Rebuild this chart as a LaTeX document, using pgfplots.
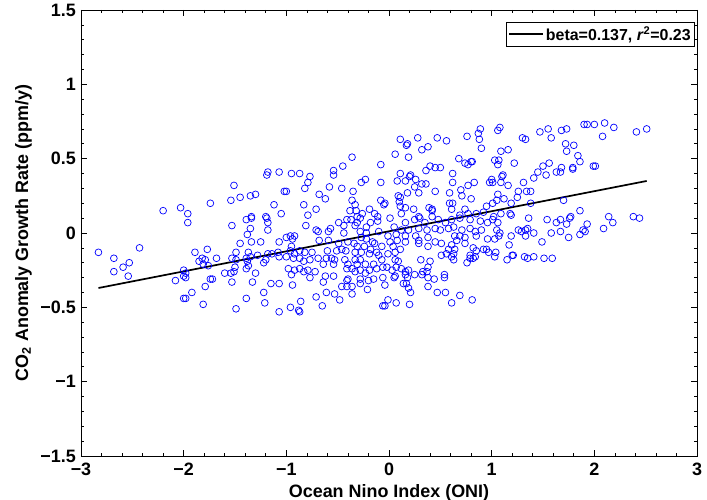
\documentclass[border=0pt]{standalone}
\usepackage{fontspec}
\setmainfont{Liberation Sans}
\usepackage{pgfplots}
\pgfplotsset{compat=1.18}
\begin{document}
\begin{tikzpicture}
\useasboundingbox (-81bp,-44bp) rectangle (626bp,456bp);
\begin{axis}[
 at={(0,0)}, anchor=south west,
 scale only axis, width=616bp, height=446bp,
 xmin=-3, xmax=3, ymin=-1.5, ymax=1.5,
 xtick={-3,-2,-1,0,1,2,3},
 xticklabels={−3,−2,−1,0,1,2,3},
 ytick={-1.5,-1,-0.5,0,0.5,1,1.5},
 yticklabels={−1.5,−1,−0.5,0,0.5,1,1.5},
 minor x tick num=4, minor y tick num=4,
 tick align=inside, major tick length=6bp, minor tick length=3.3bp,
 tick style={black, line width=0.6bp},
 axis line style={black, line width=0.6bp},
 ticklabel style={font=\bfseries\fontsize{18}{20}\selectfont, inner sep=0bp},
 xticklabel style={anchor=north, yshift=-7bp},
 yticklabel style={anchor=east, xshift=-5bp},
 xlabel={Ocean Nino Index (ONI)},
 ylabel={CO\textsubscript{2} Anomaly Growth Rate (ppm/y)},
 label style={font=\bfseries\fontsize{18}{20}\selectfont},
 xlabel style={at={(axis description cs:0.5,-0.092)}, anchor=base},
 ylabel style={at={(axis description cs:-0.086,0.5)}, anchor=base},
 legend style={at={(rel axis cs:0.9968,0.973)}, anchor=north east, draw=black, line width=0.6bp, font=\bfseries\fontsize{16}{18}\selectfont, inner sep=2bp},
 legend image code/.code={\draw[black, line width=1.7bp] (0bp,0bp) -- (34bp,0bp);},
]
\addplot[only marks, mark=o, mark size=3.4bp, blue, mark options={line width=0.7bp}, forget plot] coordinates {
(-2.20,0.15) (-2.03,0.17)
(-2.83,-0.13) (-2.68,-0.17) (-2.43,-0.10) (-2.53,-0.20) (-2.59,-0.23) (-2.68,-0.26) (-2.54,-0.29) (-2.08,-0.32) (-2.00,-0.29) (-2.00,-0.25) (-2.00,-0.44)
(-1.18,0.41) (-1.19,0.39) (-1.07,0.41) (-1.51,0.32) (-1.02,0.28) (-1.74,0.20) (-1.54,0.22) (-1.45,0.24) (-1.35,0.25) (-1.30,0.26) (-1.12,0.19) (-1.96,0.13) (-1.34,0.11) (-1.20,0.11) (-1.05,0.13)
(-1.96,0.07) (-1.53,0.05) (-1.39,0.09) (-1.34,0.10) (-1.19,0.10) (-1.18,0.07) (-1.35,0.03) (-1.38,-0.01) (-1.18,0.02) (-1.45,-0.07) (-1.34,-0.06) (-1.25,-0.06) (-1.07,-0.06) (-1.89,-0.13) (-1.77,-0.11) (-1.82,-0.17) (-1.79,-0.18) (-1.85,-0.19) (-1.68,-0.17) (-1.81,-0.21) (-1.76,-0.22) (-1.49,-0.13) (-1.37,-0.13) (-1.53,-0.17) (-1.49,-0.18) (-1.39,-0.17) (-1.38,-0.19) (-1.35,-0.16) (-1.28,-0.15) (-1.18,-0.14) (-1.14,-0.14) (-1.08,-0.13) (-1.07,-0.16) (-1.22,-0.20) (-1.20,-0.18) (-1.98,-0.30) (-1.98,-0.27) (-1.74,-0.31) (-1.72,-0.31) (-1.60,-0.27) (-1.54,-0.27) (-1.50,-0.23) (-1.51,-0.26) (-1.39,-0.24) (-1.37,-0.22) (-1.30,-0.27) (-1.53,-0.33) (-1.33,-0.33) (-1.79,-0.36) (-1.15,-0.34) (-1.07,-0.34) (-1.92,-0.40) (-1.98,-0.44) (-1.39,-0.44) (-1.22,-0.40) (-1.21,-0.47) (-1.81,-0.48) (-1.49,-0.51) (-1.07,-0.53)
(-0.36,0.51) (-0.45,0.45) (-0.08,0.46) (-0.95,0.40) (-0.87,0.40) (-0.54,0.42) (-0.54,0.39) (-0.77,0.38) (-0.79,0.34) (-1.00,0.28) (-0.82,0.30) (-0.68,0.26) (-0.58,0.31) (-0.46,0.30) (-0.27,0.34) (-0.23,0.36) (-0.08,0.34) (-0.35,0.28) (-0.62,0.23) (-0.36,0.22) (-0.33,0.19) (-0.08,0.22) (-0.05,0.19) (-0.83,0.19) (-0.71,0.16) (-0.38,0.15) (-0.32,0.15) (-0.26,0.13) (-0.19,0.16) (-0.14,0.13) (-0.79,0.12) (-0.31,0.11) (-0.11,0.11)
(-0.49,0.07) (-0.41,0.09) (-0.37,0.09) (-0.31,0.07) (-0.28,0.10) (-0.18,0.07) (-0.11,0.08) (-0.81,0.05) (-0.44,0.05) (-0.33,0.05) (-0.22,0.04) (-0.57,0.03) (-0.71,0.02) (-0.69,0.01) (-0.59,0.01) (-0.96,-0.02) (-0.92,-0.02) (-1.00,-0.03) (-0.94,-0.04) (-0.44,0.00) (-0.28,0.01) (-0.22,0.00) (-0.10,0.01) (-0.27,-0.03) (-0.22,-0.04) (-0.16,-0.06) (-0.14,-0.07) (-0.68,-0.05) (-0.59,-0.05) (-0.40,-0.06) (-0.34,-0.07) (-0.49,-0.07) (-0.31,-0.09) (-0.24,-0.09) (-0.18,-0.11) (-0.12,-0.13) (-0.07,-0.09) (-0.95,-0.09) (-0.87,-0.12) (-0.92,-0.14) (-0.96,-0.12) (-1.00,-0.16) (-0.82,-0.13) (-0.75,-0.13) (-0.60,-0.12) (-0.51,-0.12) (-0.46,-0.11) (-0.42,-0.12) (-0.33,-0.13) (-0.27,-0.13) (-0.19,-0.14) (-0.10,-0.15)
(-0.93,-0.17) (-0.87,-0.17) (-0.83,-0.19) (-0.77,-0.18) (-0.69,-0.17) (-0.61,-0.17) (-0.56,-0.17) (-0.53,-0.18) (-0.54,-0.21) (-0.64,-0.21) (-0.43,-0.18) (-0.40,-0.21) (-0.33,-0.18) (-0.31,-0.21) (-0.28,-0.18) (-0.23,-0.21) (-0.15,-0.21) (-0.07,-0.18) (-0.98,-0.24) (-0.92,-0.25) (-0.87,-0.24) (-0.83,-0.26) (-0.79,-0.25) (-0.72,-0.26) (-0.41,-0.24) (-0.36,-0.24) (-0.33,-0.26) (-0.28,-0.25) (-0.23,-0.27) (-0.19,-0.25) (-0.12,-0.24) (-0.06,-0.23) (-0.95,-0.28) (-0.77,-0.30) (-0.62,-0.29) (-0.54,-0.29) (-0.40,-0.31) (-0.28,-0.31) (-0.20,-0.32) (-0.15,-0.31) (-0.06,-0.30) (-0.64,-0.33) (-0.41,-0.32) (-0.94,-0.35) (-0.46,-0.36) (-0.41,-0.36) (-0.36,-0.36) (-0.28,-0.34) (-0.21,-0.38) (-0.61,-0.40) (-0.53,-0.41) (-0.36,-0.41) (-0.71,-0.43) (-0.48,-0.45) (-0.86,-0.46) (-0.96,-0.50) (-0.88,-0.52) (-0.87,-0.53) (-0.65,-0.49) (-0.06,-0.49)
(0.89,0.70) (0.87,0.67) (0.88,0.63) (0.90,0.57) (0.11,0.63) (0.18,0.60) (0.17,0.59) (0.28,0.64) (0.47,0.64) (0.56,0.62) (0.76,0.65) (0.38,0.58) (0.32,0.56) (0.06,0.53) (0.19,0.51) (0.68,0.50) (0.74,0.47) (0.77,0.46) (0.80,0.48) (0.81,0.48) (0.40,0.45) (0.45,0.44) (0.50,0.44) (0.36,0.42) (0.11,0.40) (0.21,0.39) (0.20,0.38) (0.62,0.40) (0.08,0.35) (0.16,0.35) (0.26,0.36) (0.32,0.33) (0.36,0.33) (0.62,0.34) (0.83,0.34) (0.77,0.32) (0.25,0.31) (0.18,0.27) (0.29,0.27) (0.45,0.28) (0.59,0.27) (0.70,0.29) (0.71,0.25) (0.09,0.25) (0.11,0.24) (-0.04,0.20) (0.10,0.21) (0.11,0.18) (0.80,0.23) (0.59,0.20) (0.62,0.20) (0.61,0.16) (0.16,0.17) (0.24,0.16) (0.39,0.17) (0.42,0.16) (0.42,0.15) (0.74,0.16) (0.12,0.13) (0.29,0.11) (0.42,0.11) (0.69,0.12) (0.77,0.13) (0.85,0.13) (0.92,0.14)
(0.01,0.10) (0.16,0.07) (0.25,0.09) (0.30,0.10) (0.35,0.07) (0.48,0.09) (0.55,0.07) (0.61,0.09) (0.69,0.10) (0.79,0.09) (0.89,0.08) (0.05,0.04) (0.12,0.02) (0.19,0.02) (0.29,0.03) (0.37,0.02) (0.45,0.03) (0.50,0.02) (0.58,0.03) (0.63,0.04) (0.71,0.02) (0.79,0.03) (0.84,0.01) (0.90,0.02) (-0.01,-0.02) (0.07,-0.01) (0.16,-0.02) (0.26,-0.02) (0.29,-0.05) (0.38,-0.03) (0.64,-0.02) (0.69,-0.02) (0.74,-0.03) (0.85,-0.02) (0.01,-0.06) (0.08,-0.05) (0.16,-0.06) (0.29,-0.07) (0.45,-0.06) (0.51,-0.07) (0.61,-0.08) (0.66,-0.05) (0.74,-0.07) (0.04,-0.09) (0.11,-0.11) (0.06,-0.13) (-0.01,-0.14) (0.38,-0.09) (0.58,-0.11) (0.64,-0.11) (0.82,-0.10) (0.85,-0.12) (0.92,-0.11) (0.51,-0.15) (0.56,-0.14) (0.61,-0.16) (0.63,-0.14) (0.79,-0.15) (0.84,-0.16) (0.82,-0.17) (0.79,-0.17)
(0.06,-0.18) (0.09,-0.19) (0.31,-0.18) (0.40,-0.19) (0.63,-0.18) (0.76,-0.20) (-0.02,-0.23) (0.03,-0.25) (0.07,-0.23) (0.12,-0.24) (0.16,-0.26) (0.19,-0.25) (0.38,-0.23) (0.33,-0.26) (0.37,-0.26) (0.06,-0.29) (0.05,-0.30) (0.16,-0.28) (0.18,-0.30) (0.25,-0.28) (0.32,-0.28) (0.38,-0.30) (0.44,-0.31) (0.54,-0.28) (0.54,-0.30) (0.14,-0.34) (0.17,-0.34) (0.19,-0.37) (0.38,-0.36) (-0.04,-0.35) (0.21,-0.40) (0.47,-0.40) (0.55,-0.40) (0.69,-0.42) (-0.01,-0.45) (0.07,-0.47) (0.20,-0.48) (0.61,-0.47) (0.81,-0.45) (-0.04,-0.49)
(1.08,0.71) (1.06,0.69) (1.55,0.70) (1.47,0.68) (1.68,0.69) (1.73,0.70) (1.90,0.73) (1.58,0.64) (1.30,0.64) (1.33,0.63) (1.72,0.60) (1.80,0.59) (1.16,0.56) (1.09,0.55) (1.73,0.55) (1.84,0.52) (1.86,0.48) (1.03,0.49) (1.07,0.49) (1.06,0.46) (1.22,0.47) (1.56,0.47) (1.50,0.45) (1.45,0.41) (1.53,0.39) (1.68,0.44) (1.63,0.41) (1.67,0.41) (1.79,0.44) (1.79,0.43) (1.41,0.37) (1.10,0.38) (1.11,0.39) (1.00,0.36) (0.98,0.34) (1.01,0.34) (1.09,0.34) (1.16,0.32) (1.31,0.34) (1.26,0.28) (1.34,0.28) (1.38,0.28) (1.06,0.26) (1.12,0.23) (1.25,0.24) (1.05,0.22) (1.01,0.20) (1.19,0.20) (1.38,0.20) (0.95,0.18) (1.70,0.22) (1.86,0.15) (1.09,0.13) (1.18,0.13) (1.02,0.11) (1.19,0.12) (1.77,0.11) (1.36,0.10)
(0.96,0.07) (1.01,0.09) (1.06,0.07) (1.54,0.09) (1.63,0.07) (1.67,0.09) (1.73,0.06) (1.76,0.10) (1.05,0.02) (1.07,-0.02) (1.08,0.00) (1.26,0.02) (1.29,0.01) (1.33,0.02) (1.35,0.03) (1.33,-0.02) (1.41,0.00) (1.19,-0.02) (1.58,0.00) (1.67,0.01) (1.86,-0.01) (1.89,0.02) (1.75,-0.03) (0.96,-0.04) (1.03,-0.04) (1.49,-0.06) (1.17,-0.08) (0.95,-0.11) (0.97,-0.13) (1.04,-0.13) (1.03,-0.16) (1.20,-0.15) (1.21,-0.15) (1.15,-0.18) (1.32,-0.16) (1.35,-0.17) (1.41,-0.16) (1.51,-0.17) (1.59,-0.17)
(1.93,0.73) (2.00,0.73) (2.10,0.74) (2.19,0.71) (2.08,0.65) (2.41,0.68) (2.51,0.70) (1.99,0.45) (2.01,0.45) (2.14,0.11) (2.38,0.11) (2.44,0.10)
(1.93,0.06) (1.91,0.01) (2.18,0.07) (2.09,0.03)
};
\addplot[black, line width=1.7bp] coordinates {(-2.83,-0.37) (2.51,0.35)};
\addlegendentry{beta=0.137, \textit{r}\textsuperscript{2}=0.23}
\end{axis}
\end{tikzpicture}
\end{document}
